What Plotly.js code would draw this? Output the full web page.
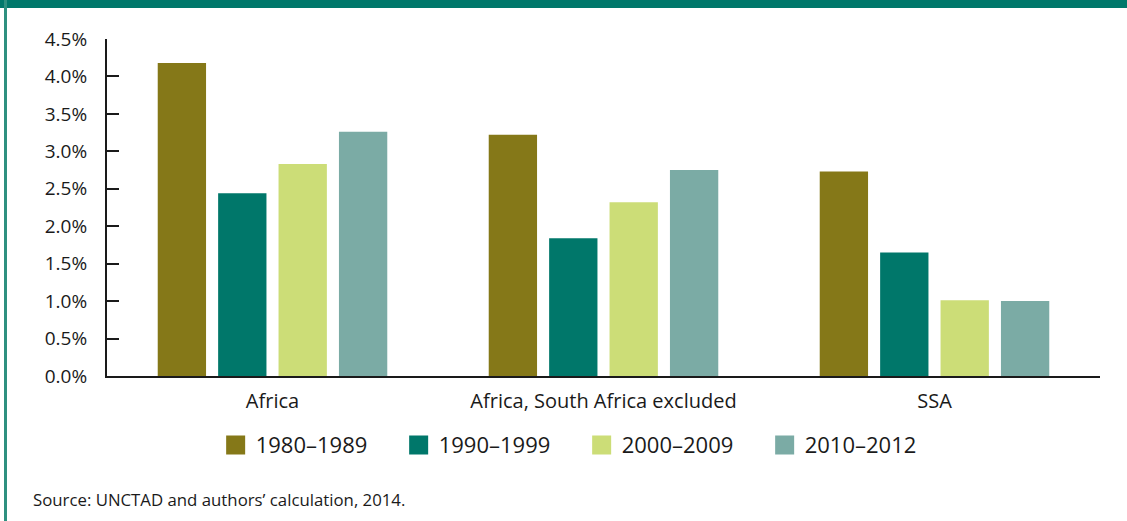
<!DOCTYPE html>
<html>
<head>
<meta charset="utf-8">
<script src="https://cdn.plot.ly/plotly-3.0.1.min.js"></script>
<style>
  html, body { margin: 0; padding: 0; background: #fff; }
  #wrap { position: relative; width: 1127px; height: 521px; overflow: hidden; }
  #topbar { position: absolute; left: 0; top: 0; width: 1127px; height: 8px; background: #00786B; z-index: 5; }
  #leftbar { position: absolute; left: 4px; top: 0; width: 3px; height: 521px; background: #2E9080; z-index: 5; }
  #chart { position: absolute; left: 0; top: 0; width: 1127px; height: 521px; }
</style>
</head>
<body>
<div id="wrap">
  <div id="chart"></div>
  <div id="topbar"></div>
  <div id="leftbar"></div>
</div>
<script>
const categories = ["Africa", "Africa, South Africa excluded", "SSA"];
const seriesNames = ["1980\u20131989", "1990\u20131999", "2000\u20132009", "2010\u20132012"];
const v1980 = [4.18, 3.22, 2.73];
const v1990 = [2.44, 1.84, 1.65];
const v2000 = [2.83, 2.32, 1.01];
const v2010 = [3.26, 2.75, 1.00];
const colors = ["#857818", "#00776A", "#CCDD77", "#7BABA5"];
const yTickVals = [0, 0.5, 1, 1.5, 2, 2.5, 3, 3.5, 4, 4.5];
const yTickText = ["0.0%", "0.5%", "1.0%", "1.5%", "2.0%", "2.5%", "3.0%", "3.5%", "4.0%", "4.5%"];
const sourceText = "Source: UNCTAD and authors\u2019 calculation, 2014.";

const seriesValues = [v1980, v1990, v2000, v2010];
const traces = seriesValues.map((vals, i) => ({
  type: "bar",
  name: seriesNames[i],
  x: categories,
  y: vals,
  marker: { color: colors[i], line: { width: 0 } },
  hoverinfo: "none"
}));

const font = "'Open Sans', 'Noto Sans', sans-serif";
const layout = {
  width: 1127,
  height: 521,
  margin: { l: 107, r: 27, t: 39, b: 145 },
  paper_bgcolor: "#ffffff",
  plot_bgcolor: "#ffffff",
  barmode: "group",
  bargap: 0.27,
  bargroupgap: 0.2,
  font: { family: font, color: "#1a1a1a" },
  showlegend: true,
  legend: {
    orientation: "h",
    x: 0.478, xanchor: "center",
    y: -0.205, yanchor: "middle",
    font: { size: 22, color: "#1a1a1a", family: font },
    entrywidth: 138,
    entrywidthmode: "pixels",
    traceorder: "normal"
  },
  xaxis: {
    showline: true, linecolor: "#1a1a1a", linewidth: 2,
    ticks: "", showgrid: false, zeroline: false,
    tickfont: { size: 20, color: "#1a1a1a", family: font },
    ticklabelstandoff: 6,
    fixedrange: true
  },
  yaxis: {
    range: [0, 4.5],
    showline: true, linecolor: "#1a1a1a", linewidth: 2,
    ticks: "inside", ticklen: 12, tickwidth: 2, tickcolor: "#1a1a1a",
    tickvals: yTickVals, ticktext: yTickText,
    showgrid: false, zeroline: false,
    tickfont: { size: 19, color: "#1a1a1a", family: font },
    ticklabelstandoff: 14,
    fixedrange: true
  },
  annotations: [{
    text: sourceText,
    xref: "paper", yref: "paper",
    x: -0.077, xanchor: "left",
    y: -0.365, yanchor: "middle",
    showarrow: false,
    font: { size: 16.8, color: "#1a1a1a", family: font }
  }]
};

Plotly.newPlot("chart", traces, layout, { displayModeBar: false, staticPlot: true }).then(gd => {
  // enlarge legend swatches to match the reference's larger squares
  gd.querySelectorAll(".legendpoints path").forEach(p => {
    p.setAttribute("d", "M9.5,9.5H-9.5V-9.5H9.5Z");
  });
});
</script>
</body>
</html>
